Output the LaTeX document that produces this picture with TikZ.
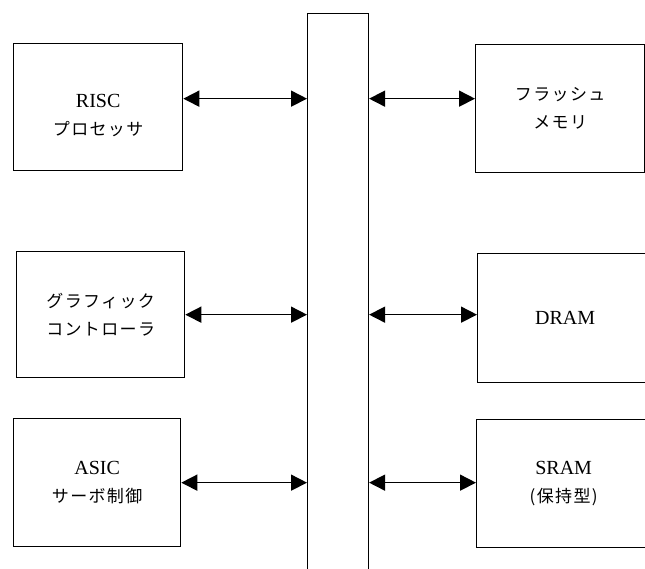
\documentclass[tikz,border=0pt]{standalone}
\usepackage{fontspec}
\setmainfont{Liberation Serif}
\newfontfamily\jpfont[LetterSpace=8]{Noto Sans CJK JP}
\usetikzlibrary{arrows.meta}
\newcommand\jp[1]{{\jpfont\fontsize{17}{28}\selectfont #1}}
\tikzset{
  block/.style={draw, line width=1.3pt, anchor=north west, inner sep=0pt, align=center,
    font=\fontsize{20}{28}\selectfont},
  link/.style={{Triangle[length=16pt,width=16pt]}-{Triangle[length=16pt,width=16pt]}, line width=1.6pt}
}
\begin{document}
\begin{tikzpicture}[x=1pt,y=-1pt]
\useasboundingbox (0,0) rectangle (645,568);
% bus in the middle
\node[draw, line width=1.1pt, anchor=north west, inner sep=0pt, minimum width=61pt, minimum height=575pt] (bus) at (307,13) {};
% left column
\node[block, minimum width=169pt, minimum height=127pt] (risc) at (13,43) {\rule{0pt}{30pt}RISC\\\jp{プロセッサ}};
\node[block, minimum width=168pt, minimum height=126pt] (graph) at (16,251) {\jp{グラフィック}\\\jp{コントローラ}};
\node[block, minimum width=167pt, minimum height=128pt] (asic) at (13,418) {ASIC\\\jp{サーボ制御}};
% right column
\node[block, minimum width=169pt, minimum height=128pt] (flash) at (475,44) {\jp{フラッシュ}\\\jp{メモリ}};
\node[block, minimum width=175pt, minimum height=129pt] (dram) at (477,253) {DRAM};
\node[block, minimum width=174pt, minimum height=128pt] (sram) at (476,419) {SRAM\\\jp{(保持型)}};
% connections
\draw[link] ([yshift=8.5pt]risc.east) -- ([yshift=8.5pt]risc.east -| bus.west);
\draw[link] ([yshift=8.5pt]risc.east -| bus.east) -- ([yshift=8.5pt]risc.east -| flash.west);
\draw[link] (graph.east) -- (graph.east -| bus.west);
\draw[link] (graph.east -| bus.east) -- (graph.east -| dram.west);
\draw[link] (asic.east) -- (asic.east -| bus.west);
\draw[link] (asic.east -| bus.east) -- (asic.east -| sram.west);
\end{tikzpicture}
\end{document}
